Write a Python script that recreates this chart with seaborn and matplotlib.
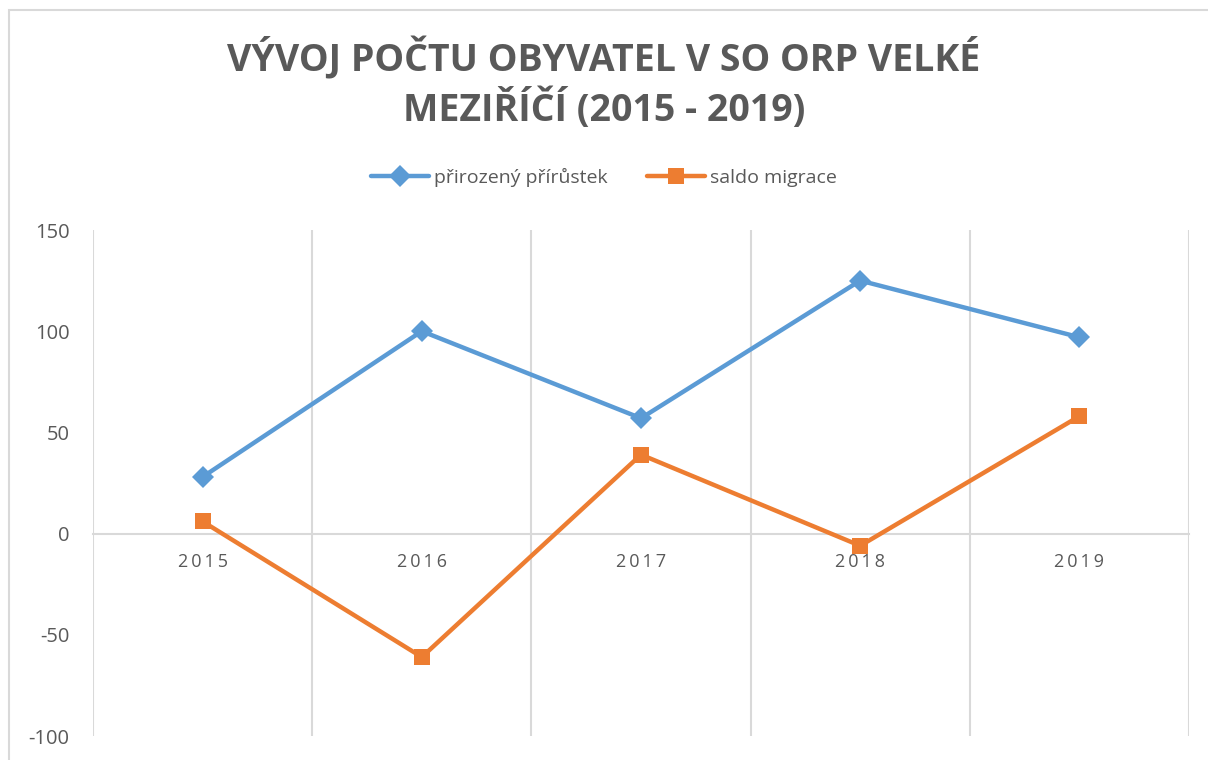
import matplotlib
matplotlib.use("Agg")
import matplotlib.pyplot as plt
import seaborn as sns
import pandas as pd
from matplotlib.patches import Rectangle

years = ["2015", "2016", "2017", "2018", "2019"]
natural = [28, 100, 57, 125, 97]
migration = [6, -61, 39, -6, 58]
series_names = ["přirozený přírůstek", "saldo migrace"]
title = "VÝVOJ POČTU OBYVATEL V SO ORP VELKÉ\nMEZIŘÍČÍ (2015 - 2019)"

df = pd.DataFrame({
    "year": list(range(len(years))) * 2,
    "value": natural + migration,
    "series": [series_names[0]] * len(years) + [series_names[1]] * len(years),
})

sns.set_theme(style="white")
plt.rcParams["font.family"] = ["Open Sans", "DejaVu Sans"]

fig = plt.figure(figsize=(12.08, 7.6), dpi=100)
ax = fig.add_axes([93/1208, 1-736/760, (1189-93)/1208, (736-230)/760])

palette = {series_names[0]: "#5B9BD5", series_names[1]: "#ED7D31"}
markers = {series_names[0]: "D", series_names[1]: "s"}
sns.lineplot(data=df, x="year", y="value", hue="series", style="series",
             palette=palette, markers=markers, dashes=False, linewidth=3.2,
             markersize=11.5, markeredgewidth=0, ax=ax, legend=True, zorder=3)

ax.set_xlim(-0.5, len(years) - 0.5)
ax.set_ylim(-100, 150)
ax.set_yticks([-100, -50, 0, 50, 100, 150])
ax.set_yticklabels(["-100", "-50", "0", "50", "100", "150"])
ax.set_xticks(range(len(years)))
ax.set_xticklabels(["\u2009".join(y) for y in years])
ax.set_xticks([i - 0.5 for i in range(len(years) + 1)], minor=True)
ax.grid(False)
ax.grid(True, axis="x", which="minor", color="#d9d9d9", linewidth=1.5)
ax.tick_params(axis="x", which="both", length=0, pad=14, labelsize=13, colors="#595959")
ax.tick_params(axis="y", length=0, pad=17, labelsize=14.5, colors="#595959")
for s in ["top", "right", "left"]:
    ax.spines[s].set_visible(False)
ax.spines["bottom"].set_position(("data", 0))
ax.spines["bottom"].set_color("#d9d9d9")
ax.spines["bottom"].set_linewidth(1.5)
ax.set_xlabel("")
ax.set_ylabel("")

handles, labels = ax.get_legend_handles_labels()
ax.legend_.remove()
fig.legend(handles, labels, loc="center", bbox_to_anchor=(0.5, 1-177/760), ncol=2,
           frameon=False, fontsize=14, labelcolor="#595959", handlelength=3.0,
           columnspacing=2.0, handletextpad=0.25)

fig.text(0.5, 1-84/760, title, ha="center", va="center", fontsize=27,
         fontweight="bold", color="#595959", linespacing=1.25)

fig.patches.append(Rectangle((9/1208, -0.1), 1.2, 1-10/760 + 0.1, transform=fig.transFigure,
                             fill=False, edgecolor="#d9d9d9", linewidth=1.5))

fig.savefig("out.png", dpi=100)
